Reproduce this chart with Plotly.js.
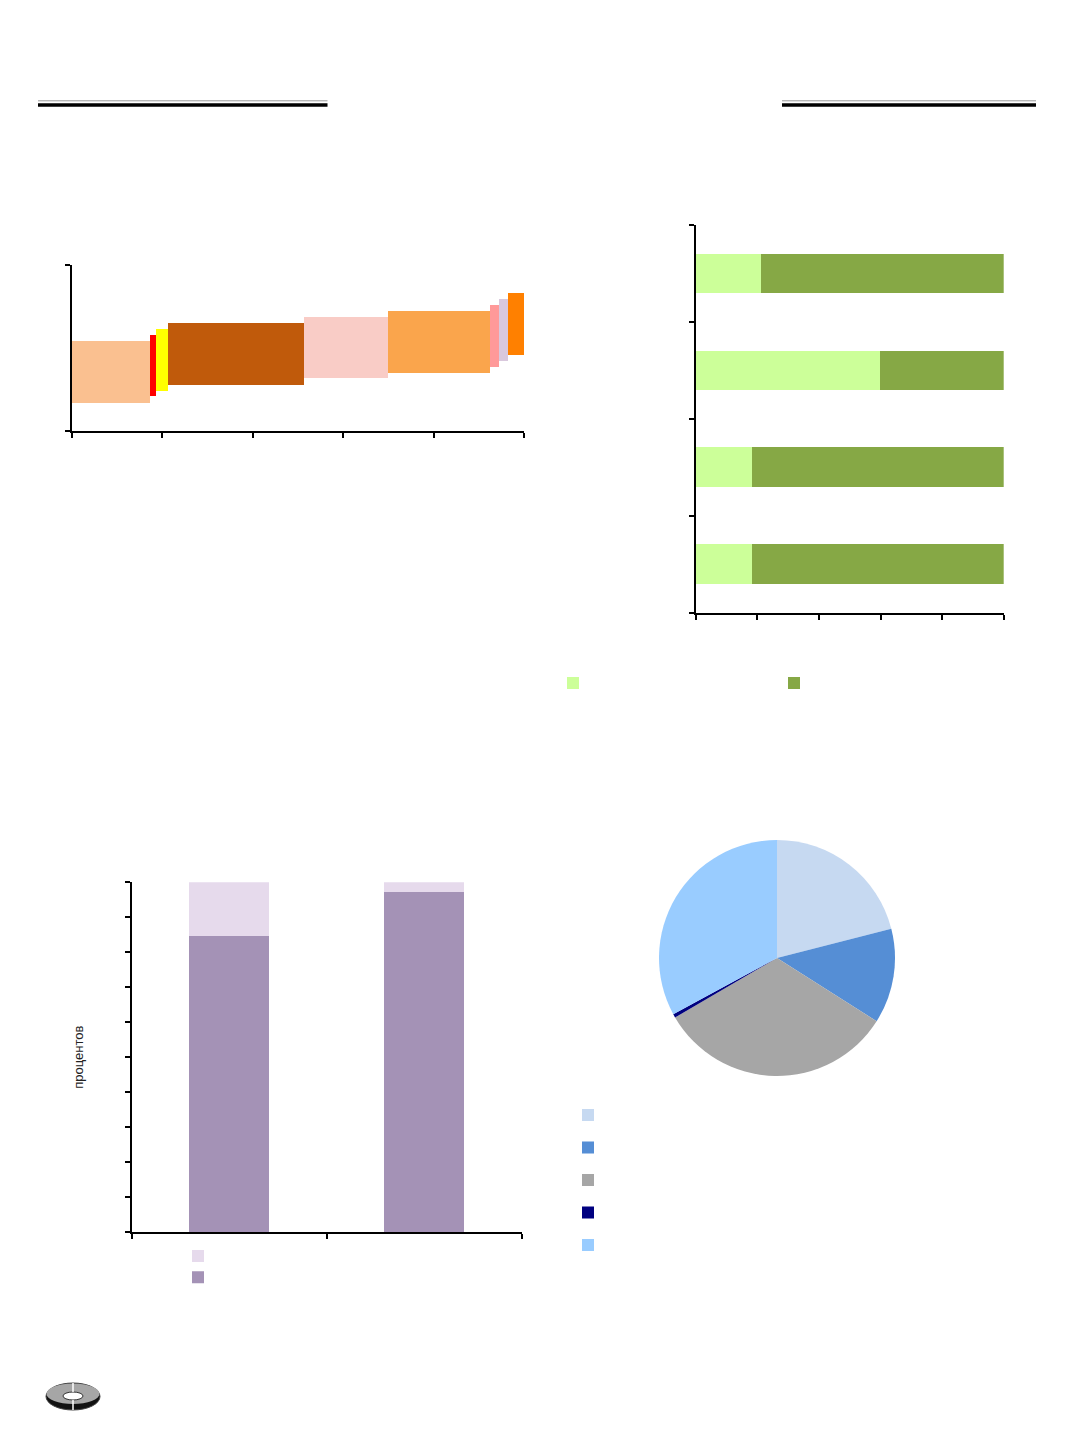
<!DOCTYPE html>
<html><head><meta charset="utf-8">
<script src="https://cdn.plot.ly/plotly-3.0.1.min.js"></script>
<style>html,body{margin:0;padding:0;background:#fff}#chart{width:1072px;height:1433px}</style>
</head><body><div id="chart"></div>
<script>
// ---- Chart 1: variable-width floating bars ----
const segShares = [17.3, 1.2, 2.8, 30.1, 18.4, 22.6, 2.1, 1.9, 3.6];
const segBase   = [5.1, 6.3, 7.3, 8.4, 9.5, 10.5, 11.6, 12.7, 13.7];
const segSpan   = [11.2, 11.0, 11.1, 11.1, 11.1, 11.1, 11.1, 11.1, 11.2];
const segColors = ['#FAC090', '#FF0000', '#FFFF00', '#C05A0B', '#F9CCC6', '#FAA54C', '#FF9999', '#D9C8DD', '#FF8000'];

// ---- Chart 2: 100% horizontal stacked bars ----
const rowCats  = ['1', '2', '3', '4'];
const rowLight = [18.3, 18.3, 59.9, 21.2];
const rowDark  = [81.7, 81.7, 40.1, 78.8];

// ---- Chart 3: stacked columns (percent) ----
const colCats  = ['1', '2'];
const colDark  = [84.6, 97.2];
const colLight = [15.4, 2.8];

// ---- Chart 4: pie ----
const pieLabels = [' ', '  ', '   ', '    ', '     '];
const pieValues = [21.0, 13.0, 32.6, 0.5, 32.9];
const pieColors = ['#C6D9F1', '#558ED5', '#A6A6A6', '#000080', '#99CCFF'];

const W = 1072, H = 1433;
const px = v => v / W;
const py = v => 1 - v / H;

// centres of the variable-width segments
const segX = [];
let acc = 0;
segShares.forEach(s => { segX.push(acc + s / 2); acc += s; });

const FONT = 'Liberation Sans, Arial, sans-serif';

const traces = [
  {
    type: 'bar', x: segX, y: segSpan, base: segBase, width: segShares,
    marker: {color: segColors, line: {width: 0}},
    xaxis: 'x', yaxis: 'y', showlegend: false, hoverinfo: 'skip'
  },
  {
    type: 'bar', orientation: 'h', y: rowCats, x: rowLight, name: ' ',
    marker: {color: '#CCFF99', line: {width: 0}},
    xaxis: 'x2', yaxis: 'y2', legend: 'legend'
  },
  {
    type: 'bar', orientation: 'h', y: rowCats, x: rowDark, name: ' ',
    marker: {color: '#86A845', line: {width: 0}},
    xaxis: 'x2', yaxis: 'y2', legend: 'legend2'
  },
  {
    type: 'bar', x: colCats, y: colDark, name: ' ',
    marker: {color: '#A492B6', line: {width: 0}},
    xaxis: 'x3', yaxis: 'y3', legend: 'legend3'
  },
  {
    type: 'bar', x: colCats, y: colLight, name: '  ',
    marker: {color: '#E6DAEC', line: {width: 0}},
    xaxis: 'x3', yaxis: 'y3', legend: 'legend3'
  },
  {
    type: 'pie', labels: pieLabels, values: pieValues, sort: false,
    direction: 'clockwise', rotation: 0, textinfo: 'none',
    marker: {colors: pieColors, line: {width: 0}},
    domain: {x: [px(659), px(895)], y: [py(1076), py(840)]},
    legend: 'legend4', hoverinfo: 'skip'
  }
];

const axBase = {
  showgrid: false, zeroline: false, showline: true, linecolor: '#000', linewidth: 2,
  ticks: 'outside', ticklen: 5, tickwidth: 2, tickcolor: '#000',
  showticklabels: false, fixedrange: true
};

const legBase = {
  bgcolor: 'rgba(0,0,0,0)', borderwidth: 0, xanchor: 'left', yanchor: 'top',
  orientation: 'v', font: {family: FONT, size: 12, color: '#000'}
};

const logoShapes = [
  {type: 'circle', xref: 'paper', yref: 'paper', x0: px(46), x1: px(100), y0: py(1410), y1: py(1383),
   fillcolor: '#111', line: {color: '#444', width: 1}},
  {type: 'circle', xref: 'paper', yref: 'paper', x0: px(46.5), x1: px(99.5), y0: py(1404), y1: py(1383.5),
   fillcolor: '#A6A6A6', line: {width: 0}},
  {type: 'circle', xref: 'paper', yref: 'paper', x0: px(63), x1: px(83), y0: py(1400), y1: py(1392),
   fillcolor: '#fff', line: {color: '#333', width: 1}},
  {type: 'line', xref: 'paper', yref: 'paper', x0: px(73), x1: px(73), y0: py(1383), y1: py(1392),
   line: {color: '#fff', width: 1.5}},
  {type: 'line', xref: 'paper', yref: 'paper', x0: px(73), x1: px(73), y0: py(1400), y1: py(1410),
   line: {color: '#fff', width: 1.5}}
];

const layout = {
  width: W, height: H, margin: {l: 0, r: 0, t: 0, b: 0},
  paper_bgcolor: '#fff', plot_bgcolor: 'rgba(0,0,0,0)',
  font: {family: FONT, size: 12, color: '#000'},
  barmode: 'stack', bargap: 0.59,
  xaxis: Object.assign({}, axBase, {domain: [px(72), px(524)], range: [0, 100], tickmode: 'linear', tick0: 0, dtick: 20, anchor: 'y'}),
  yaxis: Object.assign({}, axBase, {domain: [py(431), py(265)], range: [0, 30], tickvals: [0, 30], anchor: 'x'}),
  xaxis2: Object.assign({}, axBase, {domain: [px(695.7), px(1003.7)], range: [0, 100], tickmode: 'linear', tick0: 0, dtick: 20, anchor: 'y2'}),
  yaxis2: Object.assign({}, axBase, {domain: [py(612.7), py(225)], type: 'category', categoryorder: 'array', categoryarray: rowCats, range: [-0.5, 3.5], tickson: 'boundaries', anchor: 'x2'}),
  xaxis3: Object.assign({}, axBase, {domain: [px(131.7), px(521.7)], type: 'category', categoryorder: 'array', categoryarray: colCats, range: [-0.5, 1.5], tickson: 'boundaries', anchor: 'y3'}),
  yaxis3: Object.assign({}, axBase, {domain: [py(1232), py(882.3)], range: [0, 100], tickmode: 'linear', tick0: 0, dtick: 10, anchor: 'x3',
    title: {text: 'процентов', standoff: 38, font: {family: FONT, size: 13, color: '#222'}}}),
  legend:  Object.assign({}, legBase, {x: px(553), y: py(668.5)}),
  legend2: Object.assign({}, legBase, {x: px(774), y: py(668.5)}),
  legend3: Object.assign({}, legBase, {x: px(178), y: py(1240.4), font: {family: FONT, size: 14, color: '#000'}, traceorder: 'reversed'}),
  legend4: Object.assign({}, legBase, {x: px(568), y: py(1093.75), font: {family: FONT, size: 22.7, color: '#000'}}),
  shapes: [
    {type: 'line', xref: 'paper', yref: 'paper', x0: px(38), x1: px(327.5), y0: py(100.8), y1: py(100.8), line: {color: '#9a9a9a', width: 1}},
    {type: 'line', xref: 'paper', yref: 'paper', x0: px(38), x1: px(327.5), y0: py(105), y1: py(105), line: {color: '#000', width: 3.4}},
    {type: 'line', xref: 'paper', yref: 'paper', x0: px(782), x1: px(1036), y0: py(100.8), y1: py(100.8), line: {color: '#9a9a9a', width: 1}},
    {type: 'line', xref: 'paper', yref: 'paper', x0: px(782), x1: px(1036), y0: py(105), y1: py(105), line: {color: '#000', width: 3.4}}
  ].concat(logoShapes)
};

Plotly.newPlot('chart', traces, layout, {displayModeBar: false, staticPlot: true});
</script>
</body></html>
